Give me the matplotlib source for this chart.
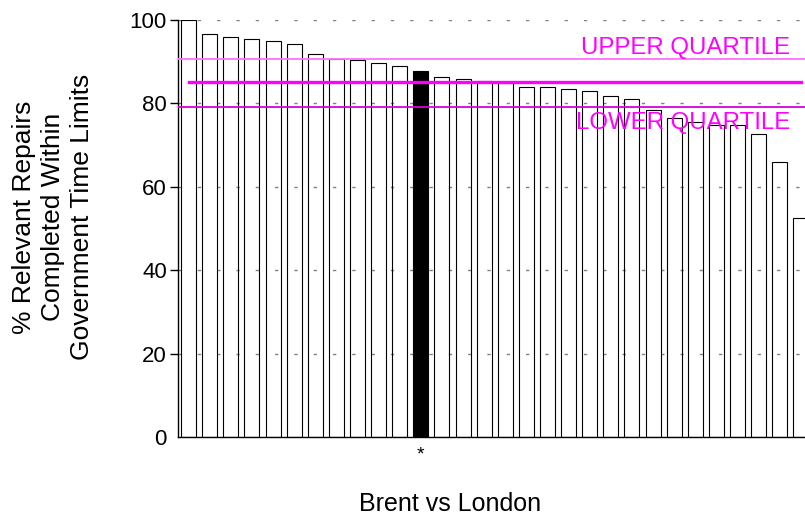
import matplotlib
matplotlib.use("Agg")
import matplotlib.pyplot as plt

plt.rcParams['font.family'] = ['Liberation Sans', 'DejaVu Sans']

# ======================= données =======================
valeurs = [100.0, 96.6, 95.9, 95.4, 95.0, 94.3, 91.9, 90.7, 90.3, 89.8,
           88.9, 87.7, 86.4, 85.9, 85.4, 84.8, 83.9, 83.9, 83.5, 82.9,
           81.7, 81.0, 78.5, 76.4, 75.5, 74.8, 74.8, 72.6, 66.0, 52.4]
indice_brent = 11          # barre noire (Brent)
quartile_haut = 90.6
mediane = 85.1
quartile_bas = 79.1
yticks = [0, 20, 40, 60, 80, 100]

MAGENTA = '#ff00ff'

fig = plt.figure(figsize=(8.05, 5.21), dpi=100)
# axes qui dépassent à droite : la dernière barre est coupée comme sur l'original
ax = fig.add_axes([178 / 805, 84 / 521, 633.4 / 805, 417 / 521])

x = list(range(len(valeurs)))
remplissage = ['black' if i == indice_brent else 'none' for i in x]
ax.bar(x, valeurs, width=0.71, facecolor=remplissage,
       edgecolor='black', linewidth=0.8, zorder=2)

# grille horizontale en pointillés
for y in yticks[1:]:
    ax.axhline(y, color='#808080', lw=1.0, ls=(0, (2.4, 11.5)), zorder=1)

# quartiles et médiane
ax.axhline(quartile_haut, color='#ff70ff', lw=1.3, zorder=3)
ax.axhline(quartile_bas, color='#d800d8', lw=1.3, zorder=3)
ax.plot([0, len(valeurs) - 1], [mediane, mediane], color=MAGENTA, lw=2.4, zorder=3)

ax.text(28.5, 91.8, 'UPPER QUARTILE', color=MAGENTA, fontsize=17.3,
        ha='right', va='baseline', zorder=4)
ax.text(28.5, 73.9, 'LOWER QUARTILE', color=MAGENTA, fontsize=17.3,
        ha='right', va='baseline', zorder=4)

ax.set_xlim(-0.5, len(valeurs) - 0.5)
ax.set_ylim(0, 100)
ax.set_yticks(yticks)
ax.tick_params(axis='y', labelsize=16, length=6, width=1, pad=2)
ax.yaxis.get_major_ticks()[0].tick1line.set_visible(False)
ax.set_xticks([indice_brent])
ax.set_xticklabels(['*'], fontsize=14)
ax.tick_params(axis='x', length=0, pad=7)

for s in ['top', 'right']:
    ax.spines[s].set_visible(False)
ax.spines['left'].set_linewidth(1.0)
ax.spines['bottom'].set_linewidth(1.0)

fig.text(53 / 805, 1 - 217 / 521,
         '% Relevant Repairs\nCompleted Within\nGovernment Time Limits',
         rotation=90, ha='center', va='center', multialignment='center',
         fontsize=19, linespacing=1.28)
fig.text(450 / 805, 1 - 504 / 521, 'Brent vs London', fontsize=18,
         ha='center', va='center')

fig.savefig('out.png', dpi=100)
